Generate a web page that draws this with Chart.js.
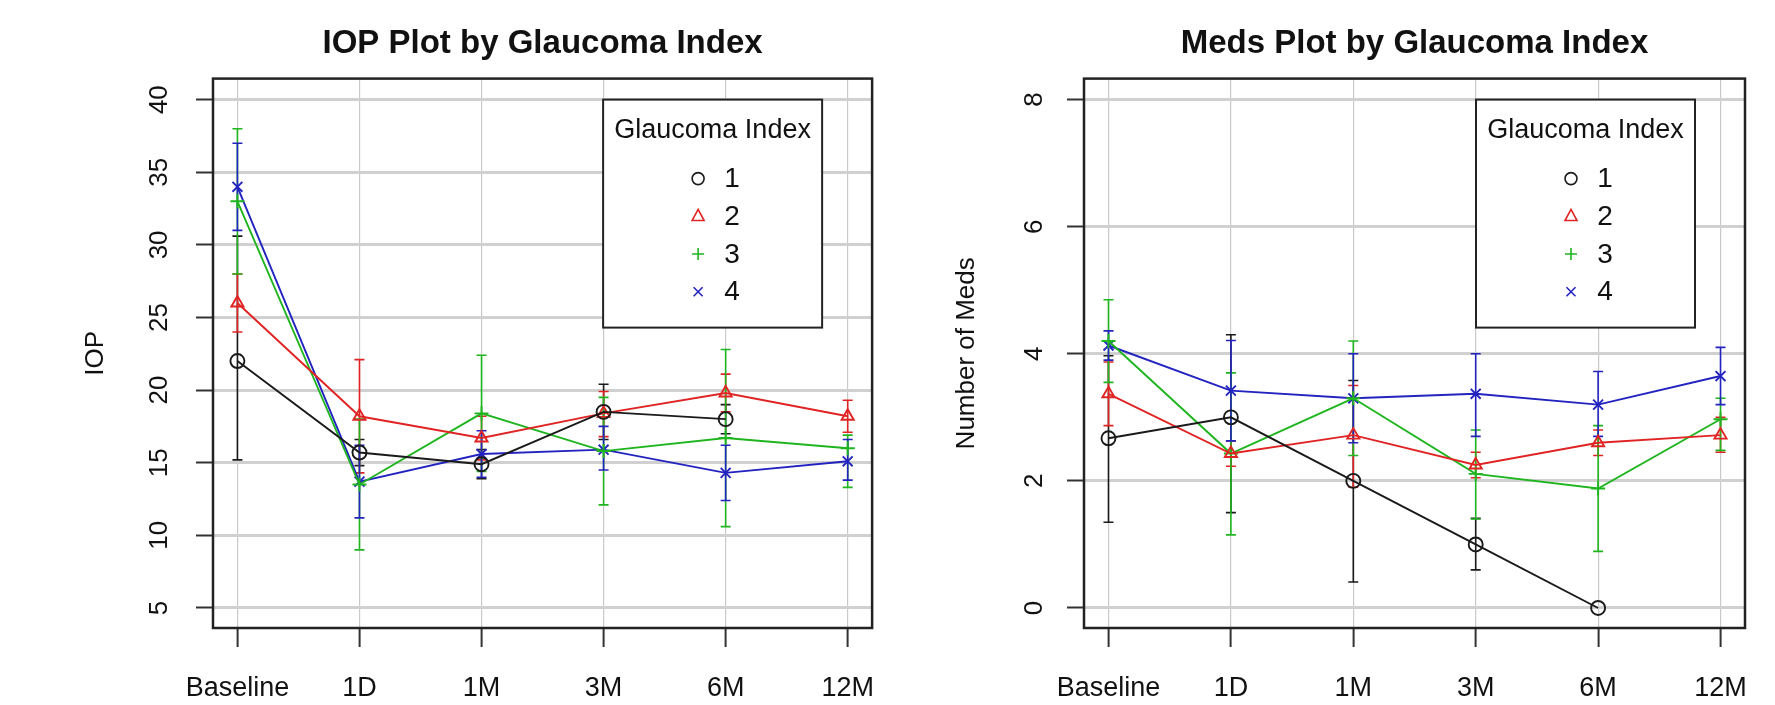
<!DOCTYPE html>
<html>
<head>
<meta charset="utf-8">
<script src="https://cdn.jsdelivr.net/npm/chart.js@4.4.0/dist/chart.umd.min.js"></script>
<style>
  html, body { margin: 0; padding: 0; background: #fff; }
  #wrap { position: relative; width: 1775px; height: 705px; }
  canvas { position: absolute; top: 0; }
  #iop { left: 0; }
  #meds { left: 900px; }
</style>
</head>
<body>
<div id="wrap">
  <canvas id="iop" width="900" height="705"></canvas>
  <canvas id="meds" width="875" height="705"></canvas>
</div>
<script>
const timepoints = ["Baseline", "1D", "1M", "3M", "6M", "12M"];
const groups = ["1", "2", "3", "4"];
const groupColors = ["#1a1a1a", "#e02424", "#1fb51f", "#2323c0"];
const groupStyles = ["circle", "triangle", "cross", "crossRot"];

const iopTicks = [5, 10, 15, 20, 25, 30, 35, 40];
const medsTicks = [0, 2, 4, 6, 8];

// IOP: means, then lower / upper ends of the error bars
const iop1 = [22, 15.7, 14.9, 18.5, 18.0, null];
const iop2 = [26, 18.2, 16.7, 18.4, 19.8, 18.2];
const iop3 = [33, 13.5, 18.4, 15.8, 16.7, 16.0];
const iop4 = [34, 13.7, 15.6, 15.9, 14.3, 15.1];
const iop1Lo = [15.2, 14.8, 13.9, 16.6, 17.0, null];
const iop1Hi = [30.6, 16.6, 15.9, 20.4, 19.0, null];
const iop2Lo = [24.0, 14.3, 15.2, 16.8, 18.5, 17.1];
const iop2Hi = [28.0, 22.1, 18.2, 19.9, 21.1, 19.3];
const iop3Lo = [28.0, 9.0, 14.4, 12.1, 10.6, 13.3];
const iop3Hi = [38.0, 18.0, 22.4, 19.5, 22.8, 16.9];
const iop4Lo = [31.0, 11.2, 14.0, 14.5, 12.4, 13.8];
const iop4Hi = [37.0, 16.2, 17.2, 17.5, 16.2, 16.6];

// Number of meds: means, then lower / upper ends of the error bars
const meds1 = [2.67, 3.0, 2.0, 1.0, 0, null];
const meds2 = [3.37, 2.43, 2.72, 2.25, 2.6, 2.72];
const meds3 = [4.2, 2.43, 3.3, 2.11, 1.88, 2.97];
const meds4 = [4.13, 3.42, 3.3, 3.37, 3.2, 3.65];
const meds1Lo = [1.35, 1.5, 0.41, 0.6, null, null];
const meds1Hi = [3.97, 4.3, 3.58, 1.41, null, null];
const meds2Lo = [2.87, 2.23, 1.9, 2.05, 2.4, 2.45];
const meds2Hi = [3.87, 2.63, 3.5, 2.45, 2.8, 3.0];
const meds3Lo = [3.55, 1.15, 2.4, 1.4, 0.89, 2.48];
const meds3Hi = [4.85, 3.7, 4.2, 2.8, 2.87, 3.3];
const meds4Lo = [3.9, 2.63, 2.6, 2.7, 2.7, 3.2];
const meds4Hi = [4.36, 4.21, 4.0, 4.0, 3.72, 4.1];

const FONT = "'Liberation Sans', Arial, Helvetica, sans-serif";
Chart.defaults.font.family = FONT;
Chart.defaults.color = "#111";

function drawSymbol(ctx, style, x, y, r) {
  ctx.beginPath();
  if (style === "circle") {
    ctx.arc(x, y, r, 0, Math.PI * 2);
  } else if (style === "triangle") {
    ctx.moveTo(x, y - r * 1.15);
    ctx.lineTo(x + r, y + r * 0.7);
    ctx.lineTo(x - r, y + r * 0.7);
    ctx.closePath();
  } else if (style === "cross") {
    ctx.moveTo(x - r, y); ctx.lineTo(x + r, y);
    ctx.moveTo(x, y - r); ctx.lineTo(x, y + r);
  } else {
    const d = r * 0.75;
    ctx.moveTo(x - d, y - d); ctx.lineTo(x + d, y + d);
    ctx.moveTo(x + d, y - d); ctx.lineTo(x - d, y + d);
  }
  ctx.stroke();
}

// vertical error bars with small caps
const errorBars = {
  id: "errorBars",
  beforeDatasetsDraw(chart) {
    const ctx = chart.ctx, xs = chart.scales.x, ys = chart.scales.y;
    chart.data.datasets.forEach(ds => {
      ctx.save();
      ctx.strokeStyle = ds.borderColor;
      ctx.lineWidth = 1.6;
      ds.lo.forEach((lo, j) => {
        const hi = ds.hi[j];
        if (lo == null || hi == null) return;
        const x = xs.getPixelForValue(j);
        const y1 = ys.getPixelForValue(lo), y2 = ys.getPixelForValue(hi);
        ctx.beginPath();
        ctx.moveTo(x, y1); ctx.lineTo(x, y2);
        ctx.moveTo(x - 5, y1); ctx.lineTo(x + 5, y1);
        ctx.moveTo(x - 5, y2); ctx.lineTo(x + 5, y2);
        ctx.stroke();
      });
      ctx.restore();
    });
  }
};

// plot frame, rotated y tick labels and the inset legend
const frame = {
  id: "frame",
  afterDraw(chart, args, opts) {
    const ctx = chart.ctx, a = chart.chartArea, ys = chart.scales.y;
    ctx.save();
    ctx.strokeStyle = "#222";
    ctx.lineWidth = 2.5;
    ctx.strokeRect(a.left, a.top, a.right - a.left, a.bottom - a.top);

    ctx.fillStyle = "#111";
    ctx.font = "26px " + FONT;
    ctx.textAlign = "center";
    ctx.textBaseline = "middle";
    ys.ticks.forEach(t => {
      ctx.save();
      ctx.translate(opts.labelX, ys.getPixelForValue(t.value));
      ctx.rotate(-Math.PI / 2);
      ctx.fillText(String(t.value), 0, 0);
      ctx.restore();
    });

    const bw = 219, bh = 228;
    const bx = a.right - 50 - bw, by = a.top + 21;
    ctx.fillStyle = "#fff";
    ctx.fillRect(bx, by, bw, bh);
    ctx.strokeStyle = "#222";
    ctx.lineWidth = 2;
    ctx.strokeRect(bx, by, bw, bh);
    ctx.fillStyle = "#111";
    ctx.font = "27px " + FONT;
    ctx.fillText("Glaucoma Index", bx + bw / 2, by + 31);
    ctx.font = "28px " + FONT;
    chart.data.datasets.forEach((ds, i) => {
      const y = by + 79 + i * 37.7;
      ctx.strokeStyle = ds.borderColor;
      ctx.lineWidth = 1.6;
      drawSymbol(ctx, groupStyles[i], bx + 95, y, 6);
      ctx.fillStyle = "#111";
      ctx.fillText(ds.label, bx + 129, y + 1);
    });
    ctx.restore();
  }
};

function makeChart(id, cfg) {
  const datasets = cfg.means.map((m, i) => ({
    label: groups[i],
    data: m.map((v, j) => ({ x: j, y: v })),
    lo: cfg.lo[i],
    hi: cfg.hi[i],
    borderColor: groupColors[i],
    borderWidth: 1.9,
    pointStyle: groupStyles[i],
    pointRadius: 7,
    pointBorderWidth: 1.9,
    pointBorderColor: groupColors[i],
    pointBackgroundColor: "rgba(0,0,0,0)",
    tension: 0
  }));

  return new Chart(document.getElementById(id), {
    type: "line",
    data: { datasets },
    plugins: [errorBars, frame],
    options: {
      responsive: false,
      animation: false,
      layout: { padding: { left: 0, top: 0, bottom: 0, right: cfg.padRight } },
      plugins: {
        legend: { display: false },
        tooltip: { enabled: false },
        title: {
          display: true,
          text: cfg.title,
          fullSize: false,
          font: { size: 33, weight: "bold" },
          color: "#111",
          padding: { top: 24, bottom: 15 }
        },
        frame: { labelX: cfg.labelX }
      },
      scales: {
        x: {
          type: "linear",
          min: -0.2,
          max: 5.2,
          afterBuildTicks: s => { s.ticks = timepoints.map((_, j) => ({ value: j })); },
          afterFit: s => { s.height = 77; },
          ticks: {
            callback: v => timepoints[v],
            font: { size: 27 },
            color: "#111",
            padding: 25,
            maxRotation: 0,
            autoSkip: false
          },
          grid: { color: "#c9c9c9", lineWidth: 1.2, tickColor: "#333", tickWidth: 2, tickLength: 19 },
          border: { display: false }
        },
        y: {
          min: cfg.yMin,
          max: cfg.yMax,
          afterBuildTicks: s => { s.ticks = cfg.ticks.map(v => ({ value: v })); },
          afterFit: s => { s.width = cfg.areaLeft; },
          ticks: { display: false },
          grid: { color: "#d0d0d0", lineWidth: 3, tickColor: "#333", tickWidth: 2, tickLength: 17 },
          border: { display: false },
          title: {
            display: true,
            text: cfg.yTitle,
            font: { size: 26 },
            color: "#111",
            padding: { top: cfg.yTitlePad, bottom: 0 }
          }
        }
      }
    }
  });
}

makeChart("iop", {
  title: "IOP Plot by Glaucoma Index",
  yTitle: "IOP",
  means: [iop1, iop2, iop3, iop4],
  lo: [iop1Lo, iop2Lo, iop3Lo, iop4Lo],
  hi: [iop1Hi, iop2Hi, iop3Hi, iop4Hi],
  ticks: iopTicks,
  yMin: 3.62,
  yMax: 41.45,
  areaLeft: 213,
  padRight: 27,
  labelX: 160,
  yTitlePad: 80
});

makeChart("meds", {
  title: "Meds Plot by Glaucoma Index",
  yTitle: "Number of Meds",
  means: [meds1, meds2, meds3, meds4],
  lo: [meds1Lo, meds2Lo, meds3Lo, meds4Lo],
  hi: [meds1Hi, meds2Hi, meds3Hi, meds4Hi],
  ticks: medsTicks,
  yMin: -0.315,
  yMax: 8.33,
  areaLeft: 184,
  padRight: 30,
  labelX: 135,
  yTitlePad: 51
});
</script>
</body>
</html>
